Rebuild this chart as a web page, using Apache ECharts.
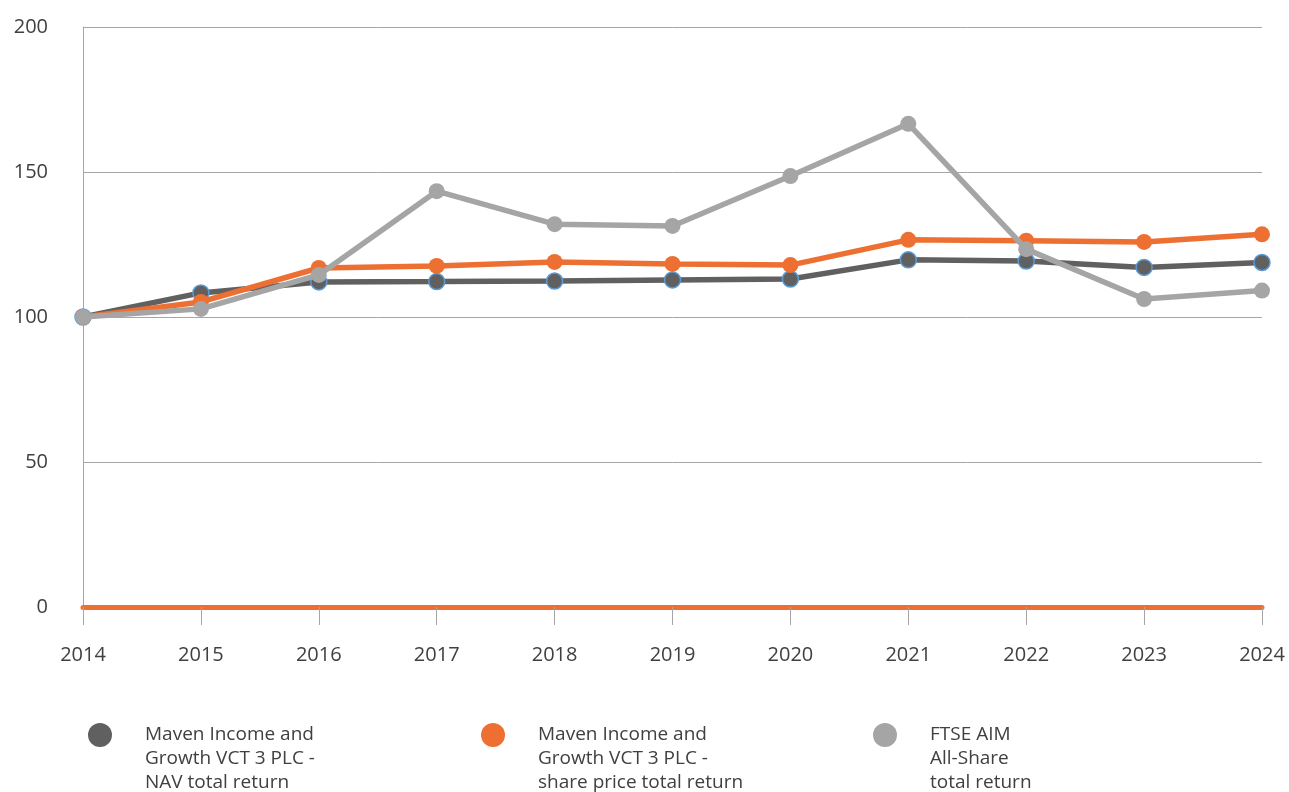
<!DOCTYPE html>
<html><head><meta charset="utf-8">
<script src="https://cdn.jsdelivr.net/npm/echarts@6/dist/echarts.min.js"></script>
<style>html,body{margin:0;padding:0;background:#fff}#c{width:1289px;height:792px}</style>
</head><body><div id="c"></div>
<script>
const years = ['2014','2015','2016','2017','2018','2019','2020','2021','2022','2023','2024'];
const navReturn = [100, 108.3, 112.1, 112.2, 112.4, 112.8, 113.1, 119.7, 119.3, 117.1, 118.8];
const shareReturn = [100, 105.2, 116.9, 117.6, 119.0, 118.3, 117.9, 126.6, 126.3, 125.9, 128.5];
const ftseReturn = [100, 102.8, 114.5, 143.4, 132.0, 131.4, 148.6, 166.6, 123.4, 106.2, 109.1];
const names = ['Maven Income and\nGrowth VCT 3 PLC -\nNAV total return',
               'Maven Income and\nGrowth VCT 3 PLC -\nshare price total return',
               'FTSE AIM\nAll-Share\ntotal return'];
const yTicks = [0, 50, 100, 150, 200];

const FONT = 'Open Sans';
const TXT = '#404040';
const chart = echarts.init(document.getElementById('c'));
function legendAt(left, name) {
  return {
    left: left, top: 675, padding: 0, orient: 'vertical',
    itemWidth: 24, itemHeight: 24, icon: 'circle',
    itemStyle: {borderWidth: 0},
    data: [name],
    formatter: n => '\n\n' + n,
    textStyle: {fontFamily: FONT, fontSize: 19, color: TXT, lineHeight: 24, padding: [0, 0, 0, 28]}
  };
}
chart.setOption({
  animation: false,
  grid: {left: 83, right: 27, top: 27, bottom: 185, containLabel: false},
  legend: [legendAt(88, names[0]), legendAt(481, names[1]), legendAt(873, names[2])],
  xAxis: {
    type: 'category', data: years, boundaryGap: false,
    axisLine: {show: true, onZero: true, lineStyle: {color: '#ED7032', width: 5}},
    axisTick: {show: true, length: 18, alignWithLabel: true, lineStyle: {color: '#A6A6A6', width: 1}},
    axisLabel: {fontFamily: FONT, fontSize: 20, color: TXT, margin: 38}
  },
  yAxis: {
    type: 'value', min: yTicks[0], max: yTicks[yTicks.length - 1], interval: 50,
    axisLine: {show: true, lineStyle: {color: '#A6A6A6', width: 1}},
    axisTick: {show: false},
    splitLine: {show: true, lineStyle: {color: '#A6A6A6', width: 1}},
    axisLabel: {fontFamily: FONT, fontSize: 20, color: TXT, margin: 35}
  },
  series: [
    {name: names[0], type: 'line', data: navReturn, symbol: 'circle', symbolSize: 16,
     lineStyle: {color: '#606060', width: 5.5}, itemStyle: {color: '#606060', borderColor: '#5B9BD5', borderWidth: 1.5}, z: 2},
    {name: names[1], type: 'line', data: shareReturn, symbol: 'circle', symbolSize: 16,
     lineStyle: {color: '#ED7032', width: 5.5}, itemStyle: {color: '#ED7032', borderWidth: 0}, z: 3},
    {name: names[2], type: 'line', data: ftseReturn, symbol: 'circle', symbolSize: 16,
     lineStyle: {color: '#A5A5A5', width: 5.5}, itemStyle: {color: '#A5A5A5', borderWidth: 0}, z: 4}
  ]
});
</script></body></html>
